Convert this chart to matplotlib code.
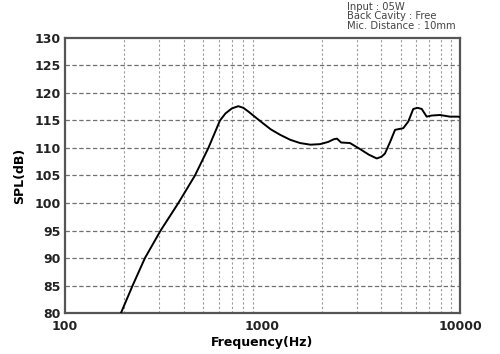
import matplotlib.pyplot as plt
from matplotlib.ticker import FixedLocator, NullFormatter

freq_hz = [192, 220, 254, 305, 375, 455, 532, 609, 650, 700, 754, 800,
           850, 920, 1005, 1100, 1228, 1380, 1549, 1750, 1954, 2150, 2300,
           2383, 2500, 2773, 3120, 3450, 3787, 4000, 4170, 4427, 4690, 5160,
           5470, 5800, 6100, 6400, 6780, 7190, 7920, 8890, 9800, 10000]
spl_db = [80.0, 85.0, 90.0, 95.0, 100.0, 105.0, 110.0, 115.0, 116.3, 117.2,
          117.6, 117.3, 116.6, 115.6, 114.5, 113.4, 112.4, 111.5, 110.9,
          110.6, 110.7, 111.1, 111.6, 111.7, 111.0, 110.9, 109.8, 108.8,
          108.1, 108.4, 109.0, 111.1, 113.3, 113.6, 114.8, 117.1, 117.3,
          117.1, 115.7, 115.9, 116.0, 115.7, 115.7, 115.6]

x_ticks = [100, 1000, 10000]
x_ticklabels = ["100", "1000", "10000"]
x_grid = [200, 300, 400, 500, 600, 700, 800, 900,
          2000, 3000, 4000, 5000, 6000, 7000, 8000, 9000]
y_ticks = [80, 85, 90, 95, 100, 105, 110, 115, 120, 125, 130]

note_lines = ["Input : 05W", "Back Cavity : Free", "Mic. Distance : 10mm"]

plt.rcParams["font.family"] = ["DejaVu Sans"]

fig = plt.figure(figsize=(5.0, 3.54), dpi=100)
ax = fig.add_axes([0.13, 0.1158, 0.79, 0.7769])

ax.set_xscale("log")
ax.set_xlim(100, 10000)
ax.set_ylim(80, 130)

for f in x_grid:
    ax.axvline(f, color="#9a9a9a", lw=0.8, ls=(0, (2, 2)), zorder=1)
for v in y_ticks[1:-1]:
    ax.axhline(v, color="#707070", lw=0.9, ls=(0, (3.5, 2)), zorder=1)

ax.plot(freq_hz, spl_db, color="black", lw=1.4, zorder=3)

ax.xaxis.set_major_locator(FixedLocator(x_ticks))
ax.set_xticklabels(x_ticklabels)
ax.xaxis.set_minor_formatter(NullFormatter())
ax.set_yticks(y_ticks)
ax.tick_params(which="both", length=0, labelsize=9)
ax.tick_params(axis="x", pad=5)
ax.tick_params(axis="y", pad=3)
for lab in ax.get_xticklabels() + ax.get_yticklabels():
    lab.set_fontweight("bold")
    lab.set_color("#222222")

for s in ax.spines.values():
    s.set_color("#555555")
    s.set_linewidth(1.6)

ax.set_xlabel("Frequency(Hz)", fontsize=9, fontweight="bold", labelpad=2)
ax.set_ylabel("SPL(dB)", fontsize=9, fontweight="bold", labelpad=6)

fig.text(0.694, 0.995, "\n".join(note_lines), ha="left", va="top",
         fontsize=7.2, color="#444444", linespacing=0.95)

fig.savefig("out.png", dpi=100)
